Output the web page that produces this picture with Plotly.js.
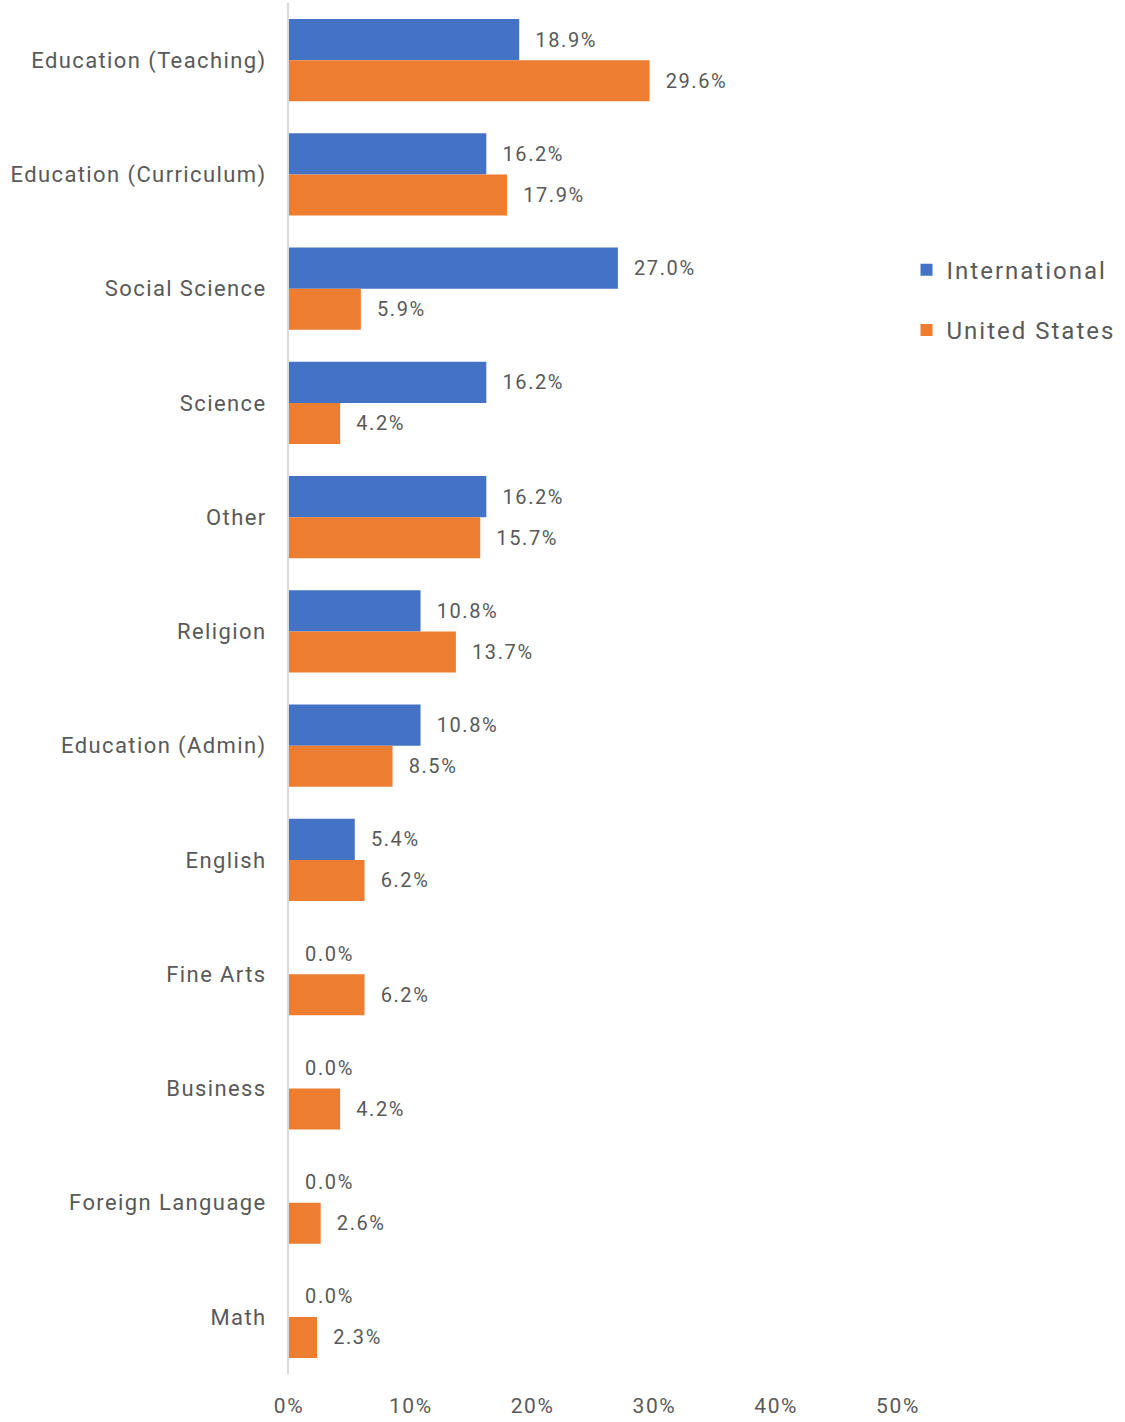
<!DOCTYPE html>
<html>
<head>
<meta charset="utf-8">
<script src="https://cdn.plot.ly/plotly-3.0.1.min.js"></script>
<style>
html,body{margin:0;padding:0;background:#fff;}
#chart{width:1125px;height:1422px;}
.ytick text{letter-spacing:1.4px;}
.xtick text{letter-spacing:1.6px;}
.bartext{letter-spacing:1.6px;}
.legendtext{letter-spacing:2px;}
</style>
</head>
<body>
<div id="chart"></div>
<script>
const categories = ["Education (Teaching)", "Education (Curriculum)", "Social Science", "Science", "Other", "Religion", "Education (Admin)", "English", "Fine Arts", "Business", "Foreign Language", "Math"];
const international = [18.9, 16.2, 27.0, 16.2, 16.2, 10.8, 10.8, 5.4, 0.0, 0.0, 0.0, 0.0];
const unitedStates = [29.6, 17.9, 5.9, 4.2, 15.7, 13.7, 8.5, 6.2, 6.2, 4.2, 2.6, 2.3];
const seriesNames = ["International", "United States"];
const xTicks = [0, 10, 20, 30, 40, 50];

const pad = '\u00A0\u00A0';
const labelFont = {family: 'Roboto, sans-serif', size: 20, color: '#595959'};

const traces = [
  {name: seriesNames[0], values: international, color: '#4472C4'},
  {name: seriesNames[1], values: unitedStates, color: '#ED7D31'}
].map((s, i) => ({
  type: 'bar',
  orientation: 'h',
  name: s.name,
  y: categories,
  x: s.values,
  marker: {color: s.color},
  text: s.values.map(v => pad + v.toFixed(1) + '%'),
  textposition: 'outside',
  textfont: labelFont,
  constraintext: 'none',
  cliponaxis: false,
  hoverinfo: 'skip',
  legendgroup: 'g' + i
}));

const layout = {
  width: 1125,
  height: 1422,
  margin: {l: 289, r: 227, t: 3, b: 48, autoexpand: false},
  paper_bgcolor: '#ffffff',
  plot_bgcolor: '#ffffff',
  barmode: 'group',
  bargap: 0.28,
  bargroupgap: 0,
  font: {family: 'Roboto, sans-serif', color: '#595959'},
  xaxis: {
    range: [0, 50],
    tickvals: xTicks,
    ticktext: xTicks.map(v => v + '%'),
    showgrid: false,
    zeroline: false,
    showline: false,
    ticks: '',
    tickfont: {family: 'Roboto, sans-serif', size: 21, color: '#595959'},
    ticklabelstandoff: 17
  },
  yaxis: {
    type: 'category',
    autorange: 'reversed',
    showgrid: false,
    zeroline: false,
    showline: true,
    linecolor: '#d9d9d9',
    linewidth: 2,
    ticks: '',
    tickfont: {family: 'Roboto, sans-serif', size: 22, color: '#595959'},
    ticklabelstandoff: 16
  },
  showlegend: true,
  legend: {
    x: 1.014,
    xanchor: 'left',
    y: 0.8215,
    yanchor: 'top',
    font: {family: 'Roboto, sans-serif', size: 24, color: '#595959'},
    tracegroupgap: 26,
    traceorder: 'grouped'
  }
};

Plotly.newPlot('chart', traces, layout, {displayModeBar: false, staticPlot: true});
</script>
</body>
</html>
